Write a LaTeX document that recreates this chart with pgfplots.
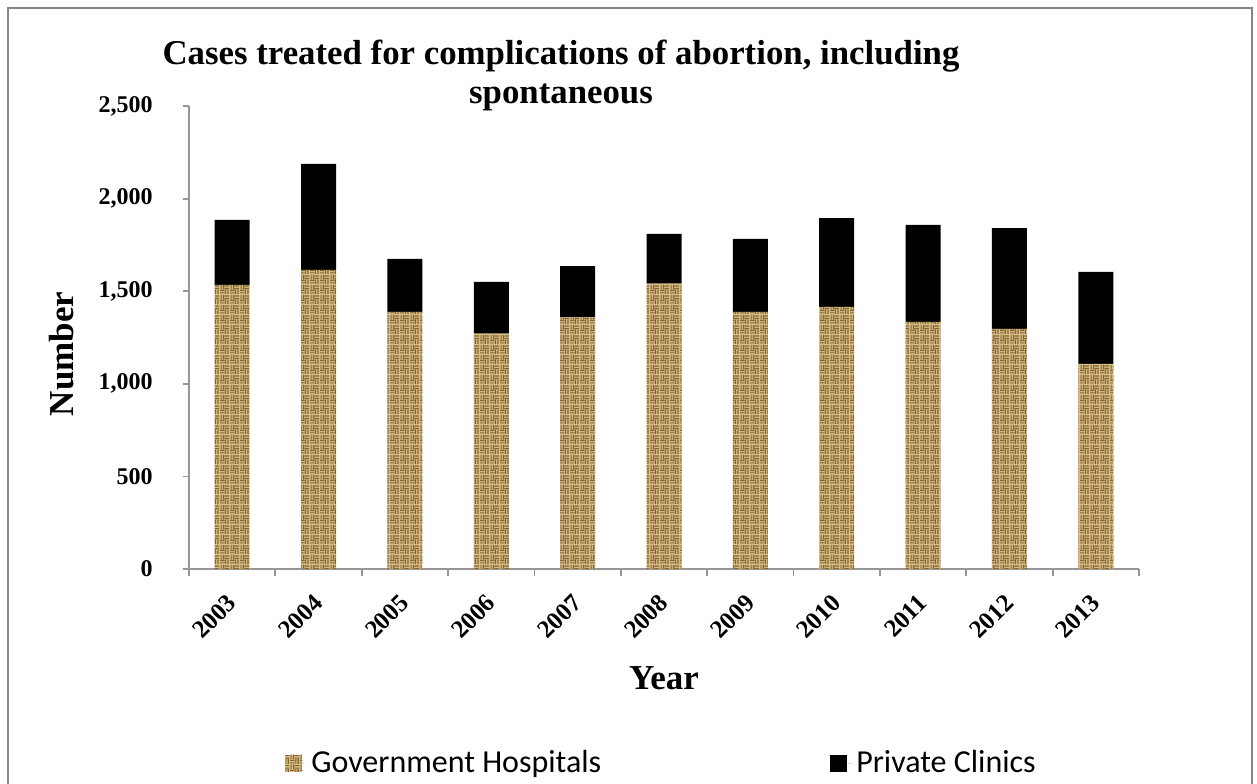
\documentclass[border=0pt]{standalone}
\usepackage{fontspec}
\setmainfont{Liberation Serif}
\newfontfamily\calibri{Carlito}
\usepackage{pgfplots}
\pgfplotsset{compat=1.18}
\usetikzlibrary{patterns}
\definecolor{govtan}{RGB}{218,192,136}
\definecolor{govdark}{RGB}{130,98,48}
\definecolor{axgray}{RGB}{150,150,150}
\definecolor{framegray}{RGB}{134,134,134}
\pgfdeclarepatternformonly{weave}{\pgfpointorigin}{\pgfqpoint{5pt}{5pt}}{\pgfqpoint{5pt}{5pt}}{%
  \pgfsetlinewidth{0.6pt}%
  \pgfpathmoveto{\pgfqpoint{0pt}{0.6pt}}\pgfpathlineto{\pgfqpoint{2.5pt}{0.6pt}}%
  \pgfpathmoveto{\pgfqpoint{0pt}{1.9pt}}\pgfpathlineto{\pgfqpoint{2.5pt}{1.9pt}}%
  \pgfpathmoveto{\pgfqpoint{3.1pt}{0pt}}\pgfpathlineto{\pgfqpoint{3.1pt}{2.5pt}}%
  \pgfpathmoveto{\pgfqpoint{4.4pt}{0pt}}\pgfpathlineto{\pgfqpoint{4.4pt}{2.5pt}}%
  \pgfpathmoveto{\pgfqpoint{0.6pt}{2.5pt}}\pgfpathlineto{\pgfqpoint{0.6pt}{5pt}}%
  \pgfpathmoveto{\pgfqpoint{1.9pt}{2.5pt}}\pgfpathlineto{\pgfqpoint{1.9pt}{5pt}}%
  \pgfpathmoveto{\pgfqpoint{2.5pt}{3.1pt}}\pgfpathlineto{\pgfqpoint{5pt}{3.1pt}}%
  \pgfpathmoveto{\pgfqpoint{2.5pt}{4.4pt}}\pgfpathlineto{\pgfqpoint{5pt}{4.4pt}}%
  \pgfusepath{stroke}%
}
\begin{document}
\begin{tikzpicture}
\useasboundingbox (0,0) rectangle (628.5pt,391.5pt);
\draw[framegray, line width=0.8pt] (4pt,387.5pt) rectangle (626pt,-20pt);
\begin{axis}[
  at={(94.5pt,107pt)}, anchor=south west,
  scale only axis, width=475pt, height=231.5pt,
  xmin=-0.5, xmax=10.5, ymin=0, ymax=2500,
  ybar stacked, bar width=17.5pt,
  axis lines*=left,
  axis line style={axgray, line width=0.9pt},
  tick align=outside,
  xtick={0,...,10},
  xticklabels={2003,2004,2005,2006,2007,2008,2009,2010,2011,2012,2013},
  minor xtick={-0.5,0.5,...,10.5},
  major x tick style={draw=none},
  minor x tick style={axgray, line width=0.9pt},
  minor tick length=3.5pt,
  ytick={0,500,1000,1500,2000,2500},
  y tick style={axgray, line width=0.9pt},
  major tick length=3pt,
  /pgf/number format/.cd, 1000 sep={,}, assume math mode=true,
  /pgfplots/.cd,
  yticklabel style={font=\bfseries\fontsize{12}{14}\selectfont, inner sep=0pt, xshift=-15pt},
  xticklabel style={font=\bfseries\fontsize{12.5}{14}\selectfont, yshift=-11.75pt, rotate=45, anchor=east, inner sep=0pt},
  title={Cases treated for complications of abortion, including\\spontaneous},
  title style={font=\bfseries\fontsize{17.4}{19.5}\selectfont, align=center, at={(axis description cs:0.3916,1)}, anchor=south, inner sep=0pt, yshift=-8.5pt},
  xlabel={Year},
  xlabel style={font=\bfseries\fontsize{17.5}{20}\selectfont, at={(axis description cs:0.5,-0.2354)}, anchor=center},
  ylabel={Number},
  ylabel style={font=\bfseries\fontsize{17.5}{20}\selectfont, at={(axis description cs:-0.1337,0.4644)}, anchor=center, rotate=0},
  legend columns=2,
  legend cell align=left,
  legend style={at={(axis description cs:0.101,-0.419)}, anchor=west, draw=none, inner sep=0pt,
    font=\calibri\fontsize{16}{19}\selectfont,
    /tikz/every even column/.append style={column sep=112.5pt}},
  legend image code/.code={\draw[#1,draw=none] (0pt,-4.25pt) rectangle (8.5pt,4.25pt); \path (0pt,0pt) -- (11pt,0pt);},
]
\addplot[fill=govtan, draw=none, postaction={pattern=weave, pattern color=govdark}] coordinates {
  (0,1534) (1,1615) (2,1388) (3,1271) (4,1359) (5,1541) (6,1388) (7,1415) (8,1334) (9,1296) (10,1107)};
\addlegendentry{Government Hospitals}
\addplot[fill=black, draw=none] coordinates {
  (0,351) (1,572) (2,286) (3,279) (4,277) (5,268) (6,394) (7,480) (8,524) (9,545) (10,497)};
\addlegendentry{Private Clinics}
\end{axis}
\end{tikzpicture}
\end{document}
